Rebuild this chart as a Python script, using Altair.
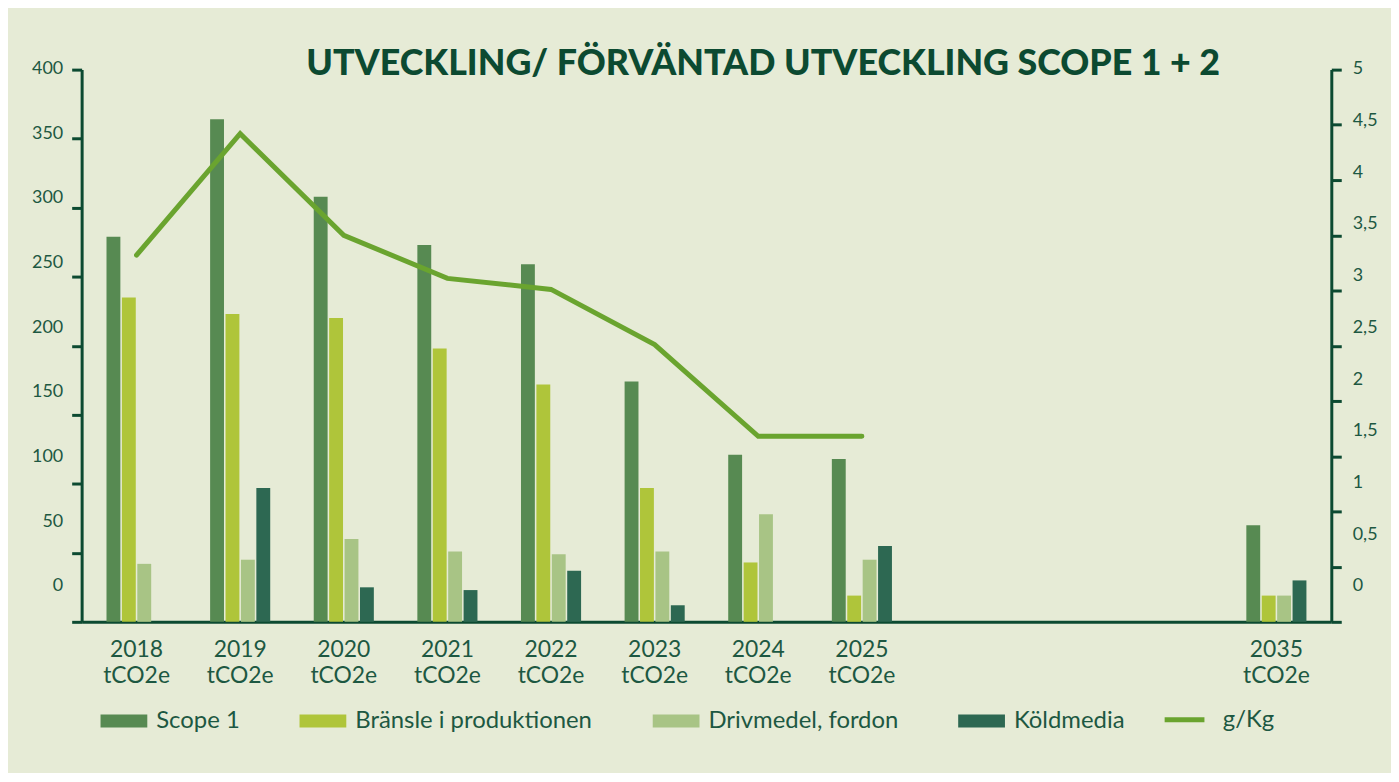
import altair as alt
import pandas as pd

# ---- data ----
years = ["2018", "2019", "2020", "2021", "2022", "2023", "2024", "2025", "2035"]
gap_slots = [" ", "  ", "   "]          # empty categories that make the gap before 2035
unit_label = "tCO2e"

series_names = ["Scope 1", "Bränsle i produktionen", "Drivmedel, fordon", "Köldmedia"]
scope1 = [279, 364, 308, 273, 259, 174, 121, 118, 70]
bransle = [235, 223, 220, 198, 172, 97, 43, 19, 19]
drivmedel = [42, 45, 60, 51, 49, 51, 78, 45, 19]
koldmedia = [0, 97, 25, 23, 37, 12, 0, 55, 30]

line_name = "g/Kg"
gkg_years = ["2018", "2019", "2020", "2021", "2022", "2023", "2024", "2025"]
gkg = [3.32, 4.42, 3.50, 3.11, 3.01, 2.51, 1.68, 1.68]

left_ticks = [0, 50, 100, 150, 200, 250, 300, 350, 400]
right_ticks = [0, 0.5, 1, 1.5, 2, 2.5, 3, 3.5, 4, 4.5, 5]

title_text = "UTVECKLING/ FÖRVÄNTAD UTVECKLING SCOPE 1 + 2"

# ---- styles ----
bar_colors = ["#578a52", "#afc53a", "#a8c485", "#2d6852"]
line_color = "#6aa42f"
ink = "#0c4a31"
label_ink = "#1d5842"
bg = "#e6ebd6"
font = "Lato"

rows = []
for series, vals in zip(series_names, [scope1, bransle, drivmedel, koldmedia]):
    for y, v in zip(years, vals):
        rows.append({"year": y, "series": series, "value": v})
bars_df = pd.DataFrame(rows)
line_df = pd.DataFrame({"year": gkg_years, "gkg": gkg, "name": line_name})

x_domain = years[:8] + gap_slots + years[8:]

x_enc = alt.X(
    "year:N",
    scale=alt.Scale(domain=x_domain, paddingInner=0.42, paddingOuter=0.24),
    axis=alt.Axis(
        title=None,
        ticks=False,
        domainColor=ink,
        domainWidth=3,
        labelAngle=0,
        labelFont=font,
        labelFontSize=23,
        labelColor=label_ink,
        labelLineHeight=26,
        labelPadding=17,
        labelExpr=f"trim(datum.label) == '' ? '' : [datum.label, '{unit_label}']",
    ),
)

bars = alt.Chart(bars_df).mark_bar().encode(
    x=x_enc,
    xOffset=alt.XOffset("series:N", sort=series_names,
                        scale=alt.Scale(domain=series_names, paddingInner=0.1)),
    y=alt.Y(
        "value:Q",
        scale=alt.Scale(domain=[0, 400], nice=False),
        axis=alt.Axis(
            title=None,
            values=left_ticks,
            grid=False,
            orient="left",
            domainColor=ink,
            domainWidth=3,
            tickColor=ink,
            tickWidth=3,
            tickSize=10,
            labelFont=font,
            labelFontSize=18,
            labelColor=label_ink,
            labelPadding=9,
            labelOffset=alt.ExprRef(expr="-36 + datum.value * 0.0875"),
        ),
    ),
    color=alt.Color(
        "series:N",
        sort=series_names,
        scale=alt.Scale(domain=series_names, range=bar_colors),
        legend=alt.Legend(
            title=None,
            orient="none",
            direction="horizontal",
            legendX=19,
            legendY=631,
            symbolType="M-1,-0.28H1V0.28H-1Z",
            symbolSize=2209,
            symbolStrokeWidth=0,
            symbolOpacity=1,
            labelFont=font,
            labelFontSize=24,
            labelColor=label_ink,
            labelLimit=400,
            labelOffset=9,
            columnPadding=60,
        ),
    ),
)

line = alt.Chart(line_df).mark_line(strokeWidth=5, strokeCap="round", strokeJoin="miter").encode(
    x=x_enc,
    y=alt.Y(
        "gkg:Q",
        scale=alt.Scale(domain=[0, 5], nice=False),
        axis=alt.Axis(
            title=None,
            values=right_ticks,
            grid=False,
            orient="right",
            domainColor=ink,
            domainWidth=3,
            tickColor=ink,
            tickWidth=3,
            tickSize=10,
            labelFont=font,
            labelFontSize=18,
            labelColor=label_ink,
            labelPadding=11,
            labelOffset=alt.ExprRef(expr="-36 + datum.value * 7"),
            labelExpr="replace(format(datum.value, '~g'), '.', ',')",
        ),
    ),
    stroke=alt.Stroke(
        "name:N",
        scale=alt.Scale(domain=[line_name], range=[line_color]),
        legend=alt.Legend(
            title=None,
            orient="none",
            legendX=1086,
            legendY=631,
            symbolType="stroke",
            symbolSize=1600,
            symbolStrokeWidth=5,
            labelFont=font,
            labelFontSize=24,
            labelColor=label_ink,
            labelOffset=16,
        ),
    ),
)

chart = (
    alt.layer(bars, line)
    .resolve_scale(y="independent", color="independent")
    .properties(
        width=1256,
        height=555,
        autosize=alt.AutoSizeParams(type="none"),
        padding={"left": 74, "top": 60, "right": 60, "bottom": 150},
        background=bg,
        title=alt.TitleParams(
            text=title_text,
            font=font,
            fontSize=36,
            fontWeight=900,
            color=ink,
            anchor="middle",
            frame="group",
            dx=57,
            offset=-23,
        ),
    )
    .configure_view(stroke=None)
)

chart.save("out.html", embed_options={"renderer": "svg", "actions": False})
